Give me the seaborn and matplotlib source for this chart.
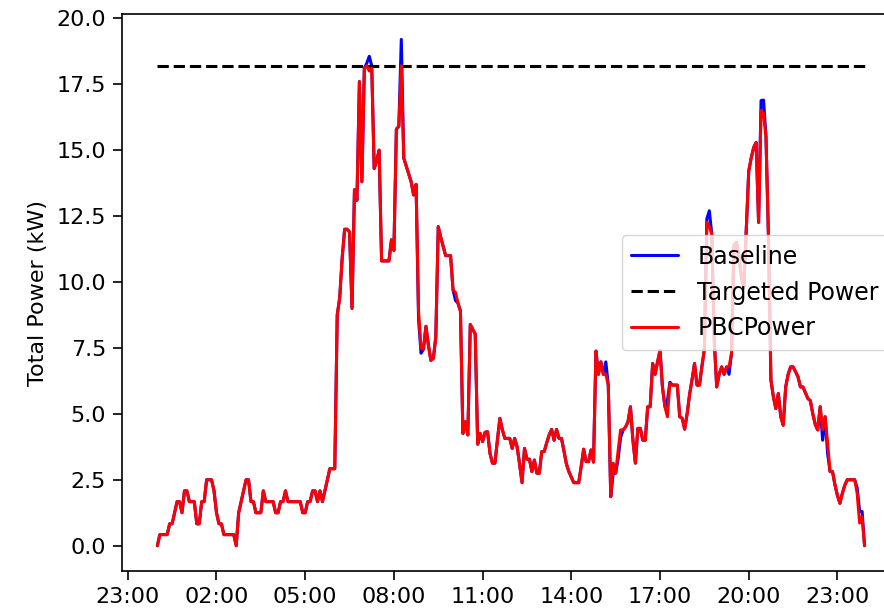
import matplotlib
matplotlib.use("Agg")
import matplotlib.pyplot as plt
import matplotlib.dates as mdates
import pandas as pd
import seaborn as sns

# 5-minute samples over one day
times = pd.date_range("2018-07-01 00:00", periods=288, freq="5min")

# PBC-controlled total power (kW), one row per hour
pbc_kw = [
    0.0, 0.42, 0.42, 0.42, 0.42, 0.83, 0.83, 1.25, 1.67, 1.67, 1.25, 2.08,
    2.08, 1.67, 1.67, 1.67, 0.83, 0.83, 1.67, 1.67, 2.5, 2.5, 2.5, 2.08,
    1.25, 0.83, 0.83, 0.42, 0.42, 0.42, 0.42, 0.42, 0.0, 1.25, 1.67, 2.08,
    2.5, 2.5, 1.67, 1.67, 1.25, 1.25, 1.25, 2.08, 1.67, 1.67, 1.67, 1.67,
    1.25, 1.25, 1.67, 1.67, 2.08, 1.67, 1.67, 1.67, 1.67, 1.67, 1.67, 1.25,
    1.25, 1.67, 1.67, 2.08, 2.08, 1.67, 2.08, 1.67, 2.08, 2.5, 2.92, 2.92,
    2.92, 8.75, 9.4, 10.9, 12.0, 12.0, 11.9, 9.0, 13.5, 13.1, 17.6, 13.8,
    18.1, 18.2, 18.0, 18.1, 14.3, 14.6, 15.0, 10.8, 10.8, 10.8, 10.8, 11.6,
    11.2, 15.8, 15.9, 18.2, 14.7, 14.4, 14.1, 13.8, 13.3, 13.7, 8.9, 7.5,
    7.45, 8.32, 7.6, 7.03, 7.1, 7.91, 12.1, 11.7, 11.35, 11.0, 11.0, 11.0,
    9.7, 9.6, 9.2, 8.9, 4.26, 4.7, 4.2, 8.39, 8.2, 8.03, 3.85, 4.26,
    3.95, 4.3, 4.32, 3.5, 3.13, 3.13, 4.0, 4.83, 4.4, 4.07, 4.07, 4.07,
    3.69, 4.07, 3.75, 3.1, 2.39, 3.69, 3.28, 3.28, 2.81, 3.25, 2.75, 2.75,
    3.57, 3.57, 3.9, 4.2, 4.41, 4.0, 4.41, 4.07, 4.07, 3.6, 3.1, 2.81,
    2.6, 2.39, 2.39, 2.39, 3.0, 3.66, 3.19, 3.19, 3.63, 3.17, 7.38, 6.5,
    6.97, 6.5, 6.5, 6.09, 1.86, 3.13, 2.75, 3.6, 4.39, 4.39, 4.5, 4.7,
    5.27, 4.0, 3.13, 4.45, 4.45, 4.0, 4.0, 5.27, 5.27, 6.91, 6.5, 6.97,
    7.41, 6.0, 5.27, 4.89, 6.15, 6.09, 6.09, 6.09, 4.89, 4.83, 4.42, 5.0,
    5.74, 6.3, 6.91, 6.09, 6.09, 6.8, 7.45, 12.26, 12.1, 11.82, 7.79, 6.02,
    6.5, 6.78, 6.5, 6.78, 6.78, 7.28, 11.4, 11.5, 11.0, 10.2, 9.8, 12.0,
    14.2, 14.7, 15.1, 15.29, 12.26, 16.5, 16.4, 15.5, 11.7, 6.28, 5.65, 5.2,
    5.77, 4.89, 4.57, 6.02, 6.5, 6.78, 6.78, 6.6, 6.4, 6.02, 6.02, 5.8,
    5.58, 5.5, 5.0, 4.6, 4.39, 5.27, 4.4, 4.89, 3.9, 2.81, 2.81, 2.3,
    1.9, 1.61, 1.99, 2.3, 2.5, 2.5, 2.5, 2.5, 1.99, 0.86, 1.1, 0.0,
]

# Uncontrolled baseline total power (kW), one row per hour
baseline_kw = [
    0.0, 0.42, 0.42, 0.42, 0.42, 0.83, 0.83, 1.25, 1.67, 1.67, 1.25, 2.08,
    2.08, 1.67, 1.67, 1.67, 0.83, 0.83, 1.67, 1.67, 2.5, 2.5, 2.5, 2.08,
    1.25, 0.83, 0.83, 0.42, 0.42, 0.42, 0.42, 0.42, 0.0, 1.25, 1.67, 2.08,
    2.5, 2.5, 1.67, 1.67, 1.25, 1.25, 1.25, 2.08, 1.67, 1.67, 1.67, 1.67,
    1.25, 1.25, 1.67, 1.67, 2.08, 1.67, 1.67, 1.67, 1.67, 1.67, 1.67, 1.25,
    1.25, 1.67, 1.67, 2.08, 2.08, 1.67, 2.08, 1.67, 2.08, 2.5, 2.92, 2.92,
    2.92, 8.75, 9.4, 10.9, 12.0, 12.0, 11.9, 9.0, 13.5, 13.1, 17.6, 13.8,
    18.1, 18.3, 18.56, 18.2, 14.3, 14.6, 15.0, 10.8, 10.8, 10.8, 10.8, 11.6,
    11.2, 15.8, 15.9, 19.2, 14.7, 14.4, 14.1, 13.8, 13.3, 13.7, 8.6, 7.3,
    7.45, 8.32, 7.6, 7.03, 7.1, 7.91, 12.1, 11.7, 11.35, 11.0, 11.0, 11.0,
    9.7, 9.3, 9.2, 8.9, 4.26, 4.7, 4.2, 8.39, 8.2, 8.03, 3.85, 4.26,
    3.95, 4.3, 4.32, 3.5, 3.13, 3.13, 4.0, 4.83, 4.4, 4.07, 4.07, 4.07,
    3.69, 4.07, 3.75, 3.1, 2.39, 3.69, 3.28, 3.28, 2.81, 3.25, 2.75, 2.75,
    3.57, 3.57, 3.9, 4.2, 4.41, 4.0, 4.41, 4.07, 4.07, 3.6, 3.1, 2.81,
    2.6, 2.39, 2.39, 2.39, 3.0, 3.66, 3.19, 3.19, 3.63, 3.17, 7.38, 6.5,
    6.97, 6.5, 6.97, 6.09, 1.86, 2.75, 2.75, 3.3, 4.1, 4.39, 4.5, 4.7,
    5.27, 4.0, 3.13, 4.45, 4.45, 4.0, 4.0, 5.27, 5.27, 6.91, 6.5, 6.97,
    7.41, 6.0, 5.27, 5.5, 6.2, 6.09, 6.09, 6.09, 4.89, 4.83, 4.42, 5.0,
    5.74, 6.3, 6.91, 6.09, 6.09, 6.8, 7.45, 12.4, 12.7, 11.82, 7.79, 6.02,
    6.5, 6.78, 6.5, 6.78, 6.5, 7.28, 11.4, 11.5, 11.0, 10.2, 9.8, 12.0,
    14.2, 14.7, 15.1, 15.29, 12.26, 16.88, 16.9, 15.5, 11.7, 6.28, 5.65, 5.2,
    5.77, 4.89, 4.57, 6.02, 6.5, 6.78, 6.78, 6.6, 6.4, 6.02, 6.02, 5.8,
    5.58, 5.5, 5.0, 4.6, 4.39, 5.27, 4.0, 4.89, 3.5, 2.81, 2.81, 2.3,
    1.9, 1.61, 1.99, 2.3, 2.5, 2.5, 2.5, 2.5, 2.2, 1.3, 1.3, 0.0,
]

# Power cap requested from the controller (kW)
target_kw = 18.2

sns.set_style("ticks")
plt.rcParams.update({
    "font.family": ["DejaVu Sans"],
    "font.size": 16,
    "axes.edgecolor": "black",
    "axes.linewidth": 1.2,
    "axes.labelcolor": "black",
    "text.color": "black",
    "xtick.color": "black",
    "ytick.color": "black",
    "xtick.major.size": 6.5,
    "ytick.major.size": 6.5,
    "xtick.major.width": 1.2,
    "ytick.major.width": 1.2,
    "xtick.major.pad": 5,
    "ytick.major.pad": 5,
    "xtick.labelsize": 16,
    "ytick.labelsize": 16,
})

fig = plt.figure(figsize=(8.84, 6.10), dpi=100)
ax = fig.add_axes([0.1380, 0.0639, 0.880, 0.913])

sns.lineplot(x=times, y=baseline_kw, color="blue", linewidth=2.2,
             label="Baseline", ax=ax)
sns.lineplot(x=[times[0], times[-1]], y=[target_kw, target_kw], color="black",
             linestyle="--", linewidth=2.2, label="Targeted Power", ax=ax)
sns.lineplot(x=times, y=pbc_kw, color="red", linewidth=2.2,
             label="PBCPower", ax=ax)

ax.set_ylabel("Total Power (kW)", fontsize=16, labelpad=6)
ax.set_xlabel("")
ax.xaxis.set_major_locator(mdates.HourLocator(byhour=[23, 2, 5, 8, 11, 14, 17, 20]))
ax.xaxis.set_major_formatter(mdates.DateFormatter("%H:%M"))
ax.set_ylim(-0.96, 20.16)

ax.legend(loc="center right", fontsize=17, framealpha=0.8,
          edgecolor="0.8", fancybox=True)

fig.savefig("out.png", dpi=100)
